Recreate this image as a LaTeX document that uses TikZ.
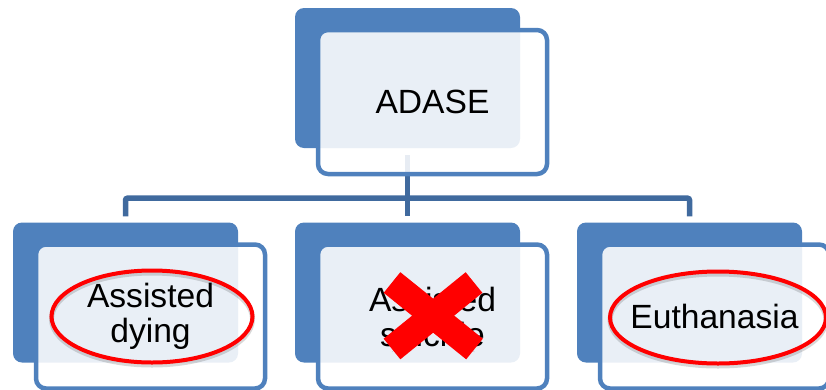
\documentclass[tikz,border=0pt]{standalone}
\usepackage{fontspec}
\setmainfont{Liberation Sans}
\usetikzlibrary{shapes.geometric, positioning, backgrounds}
\definecolor{boxBlue}{RGB}{79,129,189}
\definecolor{linkBlue}{RGB}{64,106,158}
\definecolor{markRed}{RGB}{255,0,0}

\begin{document}
\begin{tikzpicture}[
    x=1pt, y=-1pt,
    backbox/.style={
        rectangle,
        rounded corners=9pt,
        minimum width=225pt,
        minimum height=140pt,
        inner sep=0pt,
        fill=boxBlue
    },
    frontbox/.style={
        rectangle,
        rounded corners=10pt,
        minimum width=229pt,
        minimum height=144pt,
        inner sep=0pt,
        draw=boxBlue,
        line width=4.5pt,
        fill=white,
        fill opacity=0.88,
        text opacity=1,
        align=center,
        font=\fontsize{33.6}{35}\selectfont
    },
    ring/.style={
        ellipse,
        draw=markRed,
        line width=4pt,
        minimum height=92pt,
        inner sep=0pt,
        preaction={draw=black, draw opacity=0.15, line width=5pt, transform canvas={yshift=-2.5pt}}
    },
    link/.style={
        draw=linkBlue,
        line width=5.5pt,
        rounded corners=2pt
    },
    cross/.style={
        markRed,
        line width=26.5pt,
        preaction={draw=black, draw opacity=0.18, transform canvas={yshift=-3pt}}
    }
]
\useasboundingbox (0,0) rectangle (826,389);
\clip (0,0) rectangle (826,389);

% Top box
\node[backbox] (t0) at (407.5,78) {};
\node[frontbox] (f0) at ([shift={(25,24)}]t0.center) {ADASE};

% Bottom boxes
\node[backbox] (b1) at (125.5,292.5) {};
\node[backbox] (b2) at (407.5,292.5) {};
\node[backbox] (b3) at (689.5,292.5) {};
\node[frontbox] (f1) at ([shift={(25,24)}]b1.center) {Assisted\\dying};
\node[frontbox] (f2) at ([shift={(25,24)}]b2.center) {Assisted\\suicide};
\node[frontbox] (f3) at ([shift={(25,24)}]b3.center) {Euthanasia};

% Connectors
\begin{scope}[on background layer]
\draw[link, shorten <=7pt] (t0.south) -- ++(0,50) coordinate (hub);
\draw[link, shorten >=6pt] (hub) -| (b1.north);
\draw[link, shorten >=6pt] (hub) -- (b2.north);
\draw[link, shorten >=6pt] (hub) -| (b3.north);
\end{scope}

% Marks
\node[ring, minimum width=201pt] (r1) at ([shift={(1.5,0)}]f1.center) {};
\node[ring, minimum width=216pt] (r3) at ([shift={(3.5,1)}]f3.center) {};
\draw[cross] ([shift={(-40.5,-34)}]f2.center) -- ([shift={(42,32.5)}]f2.center);
\draw[cross] ([shift={(41.5,-34)}]f2.center) -- ([shift={(-40.5,32.5)}]f2.center);

\end{tikzpicture}
\end{document}
